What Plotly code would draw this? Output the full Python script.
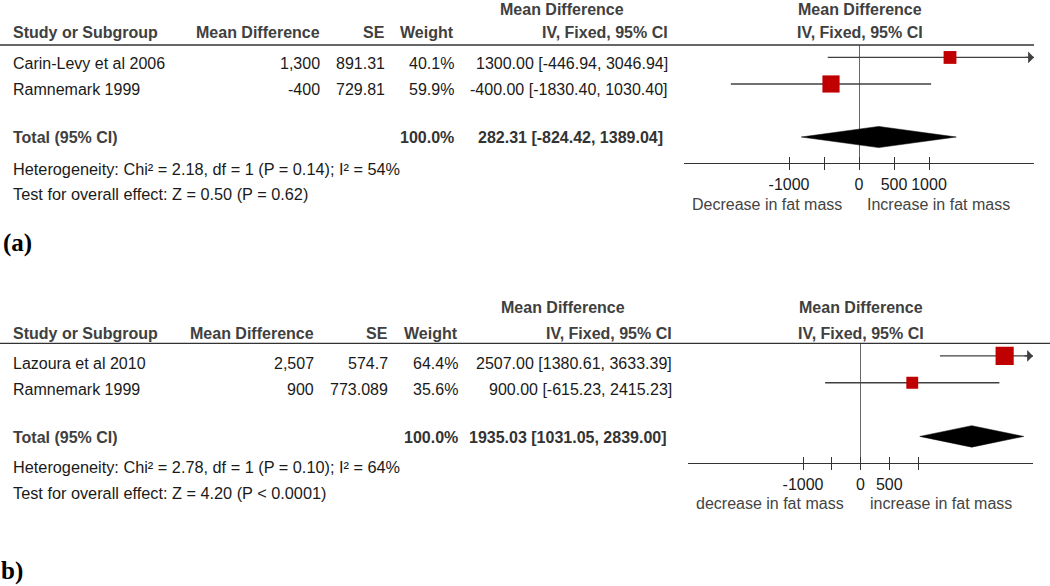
import plotly.graph_objects as go

W, H = 1050, 586
SANS = "Liberation Sans, Arial, sans-serif"
SERIF = "Liberation Serif, Times New Roman, serif"

# ---------------- Panel (a) data ----------------
studies_a = ["Carin-Levy et al 2006", "Ramnemark 1999"]
md_a = [1300, -400]
se_a = [891.31, 729.81]
weight_a = [40.1, 59.9]
lo_a = [-446.94, -1830.40]
hi_a = [3046.94, 1030.40]
total_a = [282.31, -824.42, 1389.04]
het_a = "Heterogeneity: Chi² = 2.18, df = 1 (P = 0.14); I² = 54%"
test_a = "Test for overall effect: Z = 0.50 (P = 0.62)"
range_a = [-2500, 2500]
tickvals_a = [-1000, -500, 0, 500, 1000]
ticktext_a = ["-1000", "", "0", "500", "1000"]
favours_a = ["Decrease in fat mass", "Increase in fat mass"]

# ---------------- Panel (b) data ----------------
studies_b = ["Lazoura et al 2010", "Ramnemark 1999"]
md_b = [2507, 900]
se_b = [574.7, 773.089]
weight_b = [64.4, 35.6]
lo_b = [1380.61, -615.23]
hi_b = [3633.39, 2415.23]
total_b = [1935.03, 1031.05, 2839.00]
het_b = "Heterogeneity: Chi² = 2.78, df = 1 (P = 0.10); I² = 64%"
test_b = "Test for overall effect: Z = 4.20 (P < 0.0001)"
range_b = [-3000, 3000]
tickvals_b = [-1000, -500, 0, 500, 1000]
ticktext_b = ["-1000", "", "0", "500", ""]
favours_b = ["decrease in fat mass", "increase in fat mass"]

# ---------------- layout (pixel positions) ----------------
panels = [
    dict(studies=studies_a, md=md_a, se=se_a, w=weight_a, lo=lo_a, hi=hi_a, tot=total_a,
         het=het_a, test=test_a, rng=range_a, tv=tickvals_a, tt=ticktext_a, fav=favours_a,
         label="(a)", label_xy=(3, 243),
         xdom=(684, 1034), ydom=(45, 163), hline_x1=1034,
         y_top=9, y_head=33, y_rows=[64, 89], y_tot=138, y_het=169, y_test=194,
         y_fav=204, x_fav=[767, 938],
         c_md=320, c_se=385, c_w=454, c_ci=668, c_totci=663, c_mdhead=562, c_forest=860,
         xa="x", ya="y", xo="x3"),
    dict(studies=studies_b, md=md_b, se=se_b, w=weight_b, lo=lo_b, hi=hi_b, tot=total_b,
         het=het_b, test=test_b, rng=range_b, tv=tickvals_b, tt=ticktext_b, fav=favours_b,
         label="b)", label_xy=(1, 571),
         xdom=(688, 1033), ydom=(343.3, 462.7), hline_x1=1050,
         y_top=307, y_head=333, y_rows=[363, 389], y_tot=437, y_het=467, y_test=493,
         y_fav=503, x_fav=[770, 941],
         c_md=314, c_se=388, c_w=458, c_ci=672, c_totci=667, c_mdhead=563, c_forest=861,
         xa="x2", ya="y2", xo="x4"),
]

INK = "#1a1a1a"
HEAD = "#404040"
LINE = "#404040"
RED = "#c00000"


def txt(x, y, s, anchor="left", bold=False, color=INK, size=16, family=SANS):
    return dict(x=x / W, y=1 - y / H, xref="paper", yref="paper",
                text=f"<b>{s}</b>" if bold else s, showarrow=False,
                xanchor=anchor, yanchor="middle", borderpad=0, borderwidth=0,
                font=dict(size=size, color=color, family=family))


fig = go.Figure()
annotations = []
shapes = []
layout_axes = {}

for i, p in enumerate(panels):
    n = len(p["studies"])
    rows = list(range(1, n + 1))
    tot_row = n + 2
    rmin, rmax = p["rng"]

    # CI lines
    for k in range(n):
        x0 = max(p["lo"][k], rmin)
        x1 = min(p["hi"][k], rmax)
        fig.add_trace(go.Scatter(x=[x0, x1], y=[rows[k], rows[k]], mode="lines",
                                 line=dict(color=LINE, width=1.3), xaxis=p["xa"], yaxis=p["ya"],
                                 hoverinfo="skip", showlegend=False))
        if p["hi"][k] > rmax:
            annotations.append(dict(x=rmax, y=rows[k], xref=p["xa"], yref=p["ya"], text="",
                                    showarrow=True, ax=-10, ay=0, arrowhead=1, arrowsize=1.5,
                                    arrowwidth=1.3, arrowcolor=LINE))
        if p["lo"][k] < rmin:
            annotations.append(dict(x=rmin, y=rows[k], xref=p["xa"], yref=p["ya"], text="",
                                    showarrow=True, ax=10, ay=0, arrowhead=1, arrowsize=1.5,
                                    arrowwidth=1.3, arrowcolor=LINE))

    # Squares (size grows with weight)
    fig.add_trace(go.Scatter(x=p["md"], y=rows, mode="markers",
                             marker=dict(symbol="square", color=RED, opacity=1,
                                         size=[4 + 0.22 * w for w in p["w"]],
                                         line=dict(color=RED, width=0)),
                             xaxis=p["xa"], yaxis=p["ya"], showlegend=False, hoverinfo="skip"))

    # invisible copy on the overlay axis so that its (inside) ticks are drawn
    fig.add_trace(go.Scatter(x=p["md"], y=rows, mode="markers", marker=dict(opacity=0),
                             xaxis=p["xo"], yaxis=p["ya"], showlegend=False, hoverinfo="skip"))

    # Diamond for total
    est, tlo, thi = p["tot"]
    hh = 0.4
    fig.add_trace(go.Scatter(x=[tlo, est, thi, est, tlo],
                             y=[tot_row, tot_row - hh, tot_row, tot_row + hh, tot_row],
                             mode="lines", fill="toself", fillcolor="black",
                             line=dict(color="black", width=0.5),
                             xaxis=p["xa"], yaxis=p["ya"], showlegend=False, hoverinfo="skip"))

    # axes
    xd = [p["xdom"][0] / W, p["xdom"][1] / W]
    yd = [1 - p["ydom"][1] / H, 1 - p["ydom"][0] / H]
    xkey = "xaxis" if p["xa"] == "x" else "xaxis" + p["xa"][1:]
    ykey = "yaxis" if p["ya"] == "y" else "yaxis" + p["ya"][1:]
    okey = "xaxis" + p["xo"][1:]
    layout_axes[xkey] = dict(domain=xd, range=p["rng"], anchor=p["ya"], showgrid=False,
                             zeroline=True, zerolinecolor="#666666", zerolinewidth=1.2,
                             showline=True, linecolor="#333333", linewidth=1.3,
                             ticks="outside", ticklen=6, tickwidth=1.4, tickcolor="#333333",
                             tickmode="array", tickvals=p["tv"], ticktext=p["tt"],
                             tickfont=dict(size=16, color=INK, family=SANS),
                             ticklabelstandoff=1, fixedrange=True)
    layout_axes[okey] = dict(overlaying=p["xa"], anchor=p["ya"], range=p["rng"], showgrid=False,
                             zeroline=False, showline=False, ticks="inside", ticklen=6,
                             tickwidth=1.4, tickcolor="#333333", tickmode="array",
                             tickvals=p["tv"], showticklabels=False, fixedrange=True)
    layout_axes[ykey] = dict(domain=yd, range=[tot_row + 0.98, 0.53], visible=False,
                             fixedrange=True)

    # header line
    shapes.append(dict(type="line", xref="paper", yref="paper", x0=0, x1=p["hline_x1"] / W,
                       y0=1 - p["ydom"][0] / H, y1=1 - p["ydom"][0] / H,
                       line=dict(color="#333333", width=1.3)))

    # table headers
    annotations.append(txt(p["c_mdhead"], p["y_top"], "Mean Difference", "center", True, HEAD))
    annotations.append(txt(p["c_forest"], p["y_top"], "Mean Difference", "center", True, HEAD))
    annotations.append(txt(13, p["y_head"], "Study or Subgroup", "left", True, HEAD))
    annotations.append(txt(p["c_md"], p["y_head"], "Mean Difference", "right", True, HEAD))
    annotations.append(txt(p["c_se"], p["y_head"], "SE", "right", True, HEAD))
    annotations.append(txt(p["c_w"], p["y_head"], "Weight", "right", True, HEAD))
    annotations.append(txt(p["c_ci"], p["y_head"], "IV, Fixed, 95% CI", "right", True, HEAD))
    annotations.append(txt(p["c_forest"], p["y_head"], "IV, Fixed, 95% CI", "center", True, HEAD))

    # study rows
    for k in range(n):
        y = p["y_rows"][k]
        annotations.append(txt(13, y, p["studies"][k]))
        annotations.append(txt(p["c_md"], y, f"{p['md'][k]:,}", "right"))
        annotations.append(txt(p["c_se"], y, f"{p['se'][k]}", "right"))
        annotations.append(txt(p["c_w"], y, f"{p['w'][k]:.1f}%", "right"))
        annotations.append(txt(p["c_ci"], y,
                               f"{p['md'][k]:.2f} [{p['lo'][k]:.2f}, {p['hi'][k]:.2f}]", "right"))

    # total row
    annotations.append(txt(13, p["y_tot"], "Total (95% CI)", "left", True, HEAD))
    annotations.append(txt(p["c_w"], p["y_tot"], f"{sum(p['w']):.1f}%", "right", True, "#333333"))
    annotations.append(txt(p["c_totci"], p["y_tot"], f"{est:.2f} [{tlo:.2f}, {thi:.2f}]",
                           "right", True, "#333333"))
    annotations.append(txt(13, p["y_het"], p["het"], size=16.3))
    annotations.append(txt(13, p["y_test"], p["test"], size=16.3))

    # favours labels
    annotations.append(txt(p["x_fav"][0], p["y_fav"], p["fav"][0], "center", False, "#444444"))
    annotations.append(txt(p["x_fav"][1], p["y_fav"], p["fav"][1], "center", False, "#444444"))

    # panel label
    annotations.append(txt(p["label_xy"][0], p["label_xy"][1], p["label"], "left", True, "black",
                           25, SERIF))

fig.update_layout(width=W, height=H, autosize=False,
                  margin=dict(l=0, r=0, t=0, b=0, pad=0),
                  paper_bgcolor="white", plot_bgcolor="rgba(0,0,0,0)",
                  showlegend=False, annotations=annotations, shapes=shapes,
                  **layout_axes)

fig.write_html("out.html", config={"displayModeBar": False},
               post_script="document.body.style.margin='0';document.body.style.overflow='hidden';")
